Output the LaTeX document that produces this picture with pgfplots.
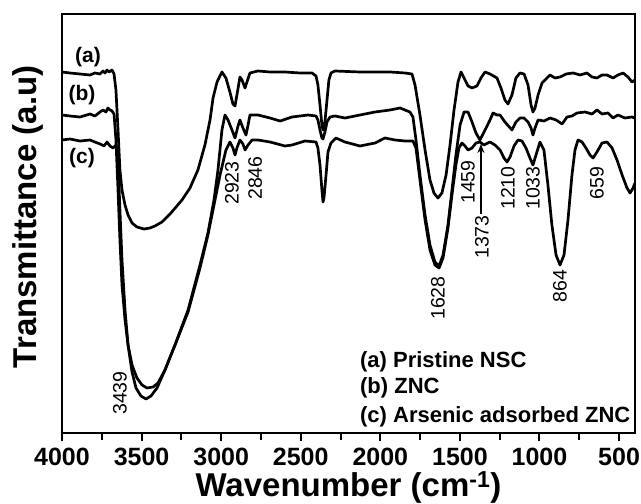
\documentclass[border=0pt]{standalone}
\usepackage{fontspec}
\setmainfont{Liberation Sans}
\usepackage{pgfplots}
\pgfplotsset{compat=1.18}
\usetikzlibrary{arrows.meta}
\begin{document}
\begin{tikzpicture}
\begin{axis}[
  scale only axis, width=573bp, height=419bp,
  xmin=400, xmax=4000, ymin=0, ymax=419, x dir=reverse,
  xtick={500,1000,...,4000}, minor x tick num=1,
  ytick=\empty, tick pos=left,
  tick align=outside, major tick length=8bp, minor tick length=7bp,
  every tick/.style={line width=2bp, black},
  axis line style={line width=2.5bp},
  xticklabel style={font=\bfseries\fontsize{25bp}{25bp}\selectfont, yshift=-4bp},
  /pgf/number format/assume math mode=true,
  /pgf/number format/1000 sep={},
  xlabel={Wavenumber (cm\textsuperscript{-1})},
  xlabel style={font=\bfseries\fontsize{33bp}{33bp}\selectfont, at={(axis description cs:0.5,-0.1517)}, anchor=base},
  ylabel={Transmittance (a.u)},
  ylabel style={font=\bfseries\fontsize{33bp}{33bp}\selectfont, at={(axis description cs:-0.0593,0.516)}, anchor=center},
  clip=true,
]
% (a) Pristine NSC
\addplot[black, line width=2.7bp, line join=round] coordinates {
(4000,361)(3950,360)(3887,359)(3824,358)(3793,360)(3761,359)(3742,362)(3730,360)(3717,363)(3705,361)(3686,363)(3673,359)
(3661,343)(3648,303)(3636,263)(3623,243)(3604,228)(3585,218)(3560,210)(3529,206)(3485,204)(3447,205)(3416,207)(3372,211)
(3321,219)(3246,233)(3196,245)(3146,263)(3102,288)(3070,313)(3051,335)(3026,351)(2995,361)(2970,355)(2945,341)(2926,329)
(2913,327)(2901,338)(2882,356)(2869,353)(2850,345)(2838,351)(2819,360)(2769,362)(2693,361)(2599,361)(2505,360)(2429,360)
(2404,357)(2392,348)(2379,328)(2367,308)(2360,303)(2348,311)(2335,333)(2323,353)(2310,360)(2285,362)(2128,361)(1939,361)
(1845,360)(1801,359)(1782,348)(1751,318)(1719,283)(1688,253)(1663,240)(1638,235)(1613,240)(1587,258)(1562,288)(1537,323)
(1512,351)(1493,361)(1474,355)(1449,347)(1424,345)(1393,347)(1368,355)(1342,361)(1311,359)(1267,355)(1242,345)(1217,333)
(1198,329)(1173,338)(1148,355)(1123,360)(1097,359)(1072,348)(1053,328)(1041,321)(1028,325)(1009,338)(984,350)(959,354)
(934,358)(903,355)(871,356)(833,359)(789,360)(745,358)(702,360)(670,356)(639,355)(607,358)(576,358)(538,355)(507,358)
(475,360)(444,356)(419,351)(400,353)
};
% (b) ZNC
\addplot[black, line width=2.7bp, line join=round] coordinates {
(4000,318)(3950,317)(3887,316)(3824,319)(3793,317)(3761,321)(3742,323)(3724,321)(3711,325)(3698,323)(3686,322)(3673,319)
(3661,293)(3648,243)(3636,193)(3623,148)(3604,113)(3585,88)(3560,68)(3529,55)(3497,48)(3466,45)(3428,46)(3397,50)
(3353,63)(3290,88)(3208,123)(3133,168)(3083,200)(3045,233)(3020,263)(2995,303)(2976,318)(2957,313)(2932,303)(2913,295)
(2894,307)(2882,313)(2863,305)(2844,298)(2831,308)(2819,318)(2769,318)(2693,315)(2630,312)(2555,316)(2454,318)(2404,317)
(2392,313)(2379,303)(2367,295)(2360,294)(2348,301)(2335,311)(2316,316)(2285,317)(2222,315)(2128,318)(2033,321)(1939,323)
(1876,325)(1814,321)(1795,316)(1776,293)(1751,258)(1719,218)(1688,188)(1657,171)(1631,167)(1606,178)(1575,208)(1550,243)
(1525,278)(1499,308)(1474,321)(1449,321)(1424,311)(1399,300)(1374,293)(1342,303)(1311,313)(1292,320)(1267,318)(1248,318)
(1217,311)(1173,303)(1148,311)(1123,315)(1097,315)(1072,311)(1053,305)(1041,298)(1028,305)(1009,313)(971,312)(934,315)
(896,313)(858,309)(827,316)(796,317)(764,320)(714,321)(670,319)(639,323)(607,319)(570,320)(538,315)(507,318)(463,315)
(419,316)(400,315)
};
% (c) Arsenic adsorbed ZNC
\addplot[black, line width=2.7bp, line join=round] coordinates {
(4000,293)(3950,294)(3887,292)(3824,293)(3793,291)(3761,289)(3736,287)(3717,291)(3698,287)(3680,285)(3661,288)
(3648,273)(3636,223)(3623,173)(3604,123)(3585,88)(3560,61)(3535,45)(3504,37)(3472,34)(3441,37)(3403,45)(3353,63)
(3290,88)(3208,121)(3133,165)(3083,198)(3045,228)(3007,258)(2970,283)(2945,291)(2926,285)(2913,278)(2901,285)(2882,293)
(2863,289)(2850,283)(2831,288)(2806,293)(2769,293)(2693,291)(2599,287)(2555,288)(2473,292)(2404,291)(2392,285)(2379,268)
(2367,243)(2360,231)(2354,235)(2341,258)(2329,281)(2310,290)(2279,295)(2222,291)(2128,287)(2033,290)(1971,295)(1908,293)
(1845,292)(1795,292)(1776,285)(1751,253)(1719,213)(1688,183)(1657,168)(1631,165)(1606,175)(1575,205)(1550,238)(1525,268)
(1506,285)(1487,290)(1468,287)(1449,283)(1424,285)(1399,290)(1374,291)(1349,288)(1311,291)(1280,288)(1248,283)(1223,275)
(1204,271)(1185,276)(1160,287)(1135,293)(1110,292)(1085,285)(1060,275)(1041,268)(1022,278)(997,291)(972,283)(947,248)
(922,208)(896,178)(871,168)(846,178)(821,213)(796,258)(777,283)(758,293)(733,291)(708,285)(683,278)(664,275)(639,281)
(607,290)(576,291)(544,285)(513,273)(481,258)(450,245)(431,240)(412,245)(400,250)
};
% peak annotations
\begin{scope}[every node/.style={rotate=90, font=\fontsize{19.5bp}{19.5bp}\selectfont, inner sep=0pt}]
\node at (axis cs:3636,40) {3439};
\node at (axis cs:2932,250) {2923};
\node at (axis cs:2787,255) {2846};
\node at (axis cs:1638,135) {1628};
\node at (axis cs:871,147) {864};
\node at (axis cs:1449,251) {1459};
\node at (axis cs:1361,196) {1373};
\node at (axis cs:1198,245) {1210};
\node at (axis cs:1041,245) {1033};
\node at (axis cs:639,250) {659};
\end{scope}
\draw[-{Stealth[length=9bp,width=7bp]}, line width=1.6bp] (axis cs:1368,219) -- (axis cs:1368,289);
% curve labels
\begin{scope}[every node/.style={font=\bfseries\fontsize{21bp}{21bp}\selectfont, inner sep=0pt}]
\node at (axis cs:3837,376) {(a)};
\node at (axis cs:3874,338) {(b)};
\node at (axis cs:3874,275) {(c)};
\end{scope}
% legend text
\begin{scope}[every node/.style={anchor=west, font=\bfseries\fontsize{22bp}{22bp}\selectfont, inner sep=0pt}]
\node at (axis cs:2128,71) {(a) Pristine NSC};
\node at (axis cs:2128,45) {(b) ZNC};
\node at (axis cs:2128,16) {(c) Arsenic adsorbed ZNC};
\end{scope}
\end{axis}
\pgfresetboundingbox
\path (-62bp,-71bp) rectangle (579bp,433bp);
\end{tikzpicture}
\end{document}
